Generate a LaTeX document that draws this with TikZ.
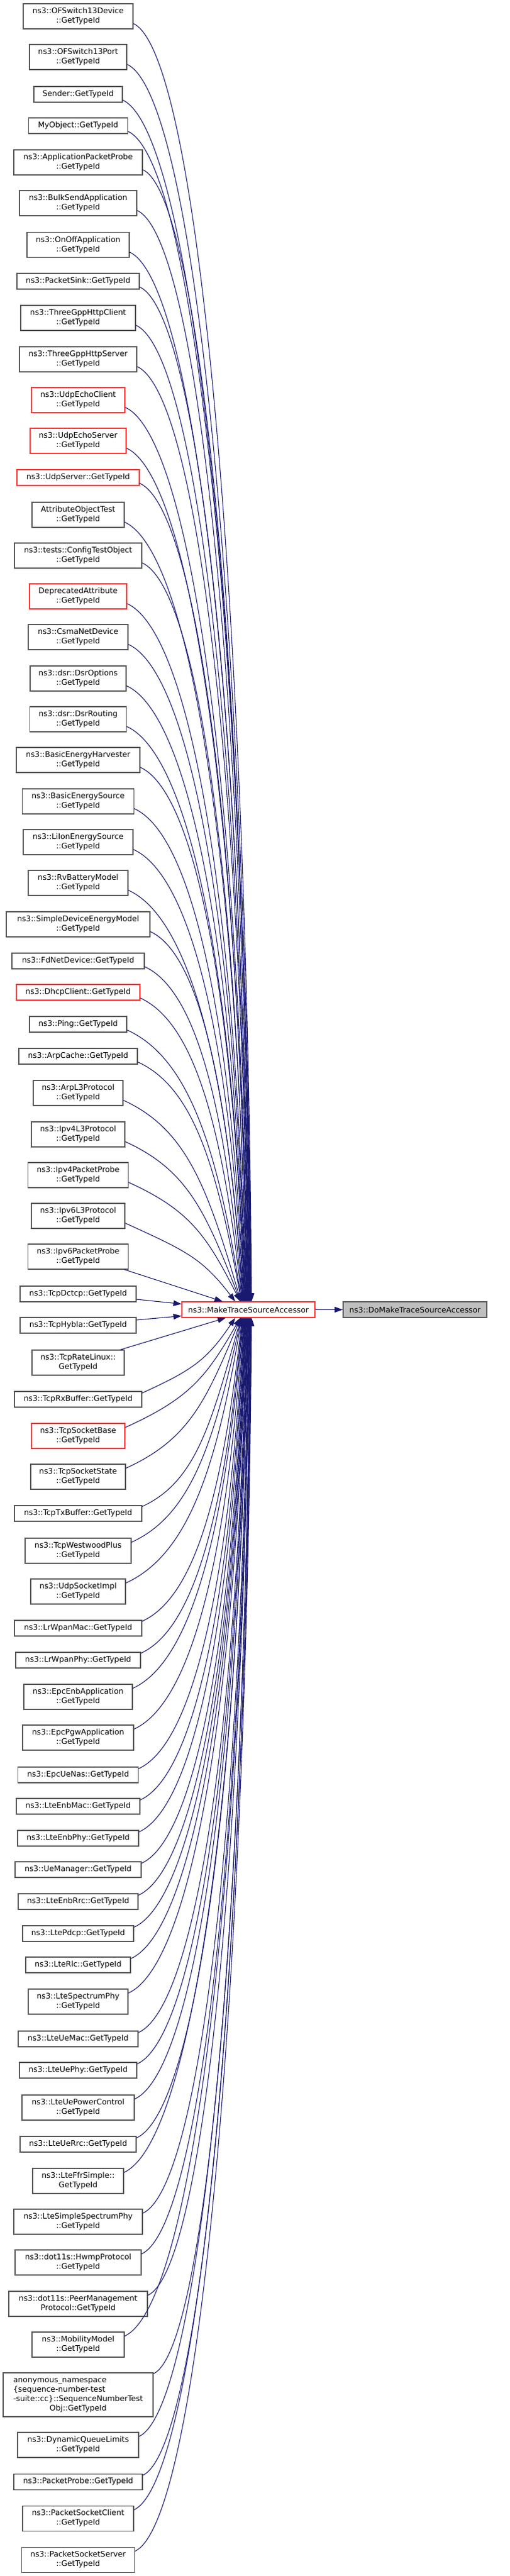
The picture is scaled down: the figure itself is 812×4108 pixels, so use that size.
\documentclass[tikz,border=0pt]{standalone}
\usepackage{fontspec}
\setmainfont{DejaVu Sans}
\usetikzlibrary{calc,arrows.meta}
\definecolor{edgecol}{HTML}{191970}
\definecolor{bordcol}{HTML}{555555}
\definecolor{redcol}{HTML}{FF3333}
\definecolor{rootfill}{HTML}{BFBFBF}
\tikzset{
  box/.style={draw=bordcol, fill=white, line width=1.1pt, inner xsep=2pt, inner ysep=0pt, align=center, font=\fontsize{12.3}{15}\selectfont},
  redbox/.style={box, draw=redcol},
  edge/.style={draw=edgecol, line width=1.1pt, -{Triangle[length=13pt,width=9pt]}},
}
\newcommand\mknode[6][box]{\node[#1,minimum width=#4pt,minimum height=#5pt] (n#2) at (124.5,#3) {#6};}
\newdimen\mydxa
\newdimen\mydya
\begin{document}
\begin{tikzpicture}[x=1pt,y=-1pt]
\useasboundingbox (0,0) rectangle (812,4108);
\mknode{1}{26}{175}{40}{ns3::OFSwitch13Device\\::GetTypeId}
\mknode{2}{91}{155}{40}{ns3::OFSwitch13Port\\::GetTypeId}
\mknode{3}{150.5}{141}{25}{Sender::GetTypeId}
\mknode{4}{200.5}{158}{25}{MyObject::GetTypeId}
\mknode{5}{259}{205}{40}{ns3::ApplicationPacketProbe\\::GetTypeId}
\mknode{6}{324}{187}{40}{ns3::BulkSendApplication\\::GetTypeId}
\mknode{7}{390.5}{163}{40}{ns3::OnOffApplication\\::GetTypeId}
\mknode{8}{448.5}{195}{25}{ns3::PacketSink::GetTypeId}
\mknode{9}{507}{183}{40}{ns3::ThreeGppHttpClient\\::GetTypeId}
\mknode{10}{573}{187}{40}{ns3::ThreeGppHttpServer\\::GetTypeId}
\mknode[redbox]{11}{638}{149}{40}{ns3::UdpEchoClient\\::GetTypeId}
\mknode[redbox]{12}{703}{153}{40}{ns3::UdpEchoServer\\::GetTypeId}
\mknode[redbox]{13}{761.5}{195}{25}{ns3::UdpServer::GetTypeId}
\mknode{14}{821}{147}{40}{AttributeObjectTest\\::GetTypeId}
\mknode{15}{886}{203}{40}{ns3::tests::ConfigTestObject\\::GetTypeId}
\mknode[redbox]{16}{951}{155}{40}{DeprecatedAttribute\\::GetTypeId}
\mknode{17}{1016}{159}{40}{ns3::CsmaNetDevice\\::GetTypeId}
\mknode{18}{1082}{153}{40}{ns3::dsr::DsrOptions\\::GetTypeId}
\mknode{19}{1147}{154}{40}{ns3::dsr::DsrRouting\\::GetTypeId}
\mknode{20}{1212}{197}{40}{ns3::BasicEnergyHarvester\\::GetTypeId}
\mknode{21}{1278}{178}{40}{ns3::BasicEnergySource\\::GetTypeId}
\mknode{22}{1343}{175}{40}{ns3::LiIonEnergySource\\::GetTypeId}
\mknode{23}{1408}{159}{40}{ns3::RvBatteryModel\\::GetTypeId}
\mknode{24}{1474}{229}{40}{ns3::SimpleDeviceEnergyModel\\::GetTypeId}
\mknode{25}{1532.5}{211}{25}{ns3::FdNetDevice::GetTypeId}
\mknode[redbox]{26}{1582.5}{197}{25}{ns3::DhcpClient::GetTypeId}
\mknode{27}{1633.5}{155}{25}{ns3::Ping::GetTypeId}
\mknode{28}{1684.5}{189}{25}{ns3::ArpCache::GetTypeId}
\mknode{29}{1743}{143}{40}{ns3::ArpL3Protocol\\::GetTypeId}
\mknode{30}{1809}{149}{40}{ns3::Ipv4L3Protocol\\::GetTypeId}
\mknode{31}{1874}{160}{40}{ns3::Ipv4PacketProbe\\::GetTypeId}
\mknode{32}{1939}{149}{40}{ns3::Ipv6L3Protocol\\::GetTypeId}
\mknode{33}{2004}{160}{40}{ns3::Ipv6PacketProbe\\::GetTypeId}
\mknode{34}{2063.5}{185}{25}{ns3::TcpDctcp::GetTypeId}
\mknode{35}{2113.5}{185}{25}{ns3::TcpHybla::GetTypeId}
\mknode{36}{2173}{147}{40}{ns3::TcpRateLinux::\\GetTypeId}
\mknode{37}{2231.5}{203}{25}{ns3::TcpRxBuffer::GetTypeId}
\mknode[redbox]{38}{2290}{149}{40}{ns3::TcpSocketBase\\::GetTypeId}
\mknode{39}{2355}{151}{40}{ns3::TcpSocketState\\::GetTypeId}
\mknode{40}{2413.5}{203}{25}{ns3::TcpTxBuffer::GetTypeId}
\mknode{41}{2473}{169}{40}{ns3::TcpWestwoodPlus\\::GetTypeId}
\mknode{42}{2538}{151}{40}{ns3::UdpSocketImpl\\::GetTypeId}
\mknode{43}{2596.5}{203}{25}{ns3::LrWpanMac::GetTypeId}
\mknode{44}{2647.5}{199}{25}{ns3::LrWpanPhy::GetTypeId}
\mknode{45}{2706}{173}{40}{ns3::EpcEnbApplication\\::GetTypeId}
\mknode{46}{2771}{177}{40}{ns3::EpcPgwApplication\\::GetTypeId}
\mknode{47}{2830.5}{192}{25}{ns3::EpcUeNas::GetTypeId}
\mknode{48}{2880.5}{197}{25}{ns3::LteEnbMac::GetTypeId}
\mknode{49}{2931.5}{193}{25}{ns3::LteEnbPhy::GetTypeId}
\mknode{50}{2981.5}{201}{25}{ns3::UeManager::GetTypeId}
\mknode{51}{3032.5}{191}{25}{ns3::LteEnbRrc::GetTypeId}
\mknode{52}{3083.5}{177}{25}{ns3::LtePdcp::GetTypeId}
\mknode{53}{3133.5}{167}{25}{ns3::LteRlc::GetTypeId}
\mknode{54}{3192}{159}{40}{ns3::LteSpectrumPhy\\::GetTypeId}
\mknode{55}{3251.5}{191}{25}{ns3::LteUeMac::GetTypeId}
\mknode{56}{3301.5}{187}{25}{ns3::LteUePhy::GetTypeId}
\mknode{57}{3361}{179}{40}{ns3::LteUePowerControl\\::GetTypeId}
\mknode{58}{3419.5}{185}{25}{ns3::LteUeRrc::GetTypeId}
\mknode{59}{3478}{145}{40}{ns3::LteFfrSimple::\\GetTypeId}
\mknode{60}{3543}{205}{40}{ns3::LteSimpleSpectrumPhy\\::GetTypeId}
\mknode{61}{3608}{201}{40}{ns3::dot11s::HwmpProtocol\\::GetTypeId}
\mknode{62}{3674}{221}{40}{ns3::dot11s::PeerManagement\\Protocol::GetTypeId}
\mknode{63}{3739}{147}{40}{ns3::MobilityModel\\::GetTypeId}
\mknode{64}{3819}{239}{70}{\begin{tabular}{@{}l@{}}anonymous\_namespace\\\{sequence-number-test\\-suite::cc\}::SequenceNumberTest\\\multicolumn{1}{@{}c@{}}{Obj::GetTypeId}\end{tabular}}
\mknode{65}{3899}{193}{40}{ns3::DynamicQueueLimits\\::GetTypeId}
\mknode{66}{3957.5}{205}{25}{ns3::PacketProbe::GetTypeId}
\mknode{67}{4016}{177}{40}{ns3::PacketSocketClient\\::GetTypeId}
\mknode{68}{4082}{180}{40}{ns3::PacketSocketServer\\::GetTypeId}
\node[redbox,minimum width=212pt,minimum height=25pt] (c) at (396,2088.5) {ns3::MakeTraceSourceAccessor};
\node[box,fill=rootfill,minimum width=229pt,minimum height=25pt] (d) at (661.5,2088.5) {ns3::DoMakeTraceSourceAccessor};
% top fan
\foreach \i/\soff in {1/9,2/9,3/4,4/4,5/9,6/9,7/9,8/4,9/9,10/9,11/9,12/9,13/4,14/9,15/9,16/9,17/9,18/9,19/9,20/9,21/9,22/9,23/9,24/9,25/4,26/4,27/4,28/4,29/9,30/9,31/9,32/9} {
  \pgfextractx{\mydxa}{\pgfpointanchor{n\i}{south east}}
  \pgfextracty{\mydya}{\pgfpointanchor{n\i}{south east}}
  \pgfmathsetmacro\myxs{\mydxa}
  \pgfmathsetmacro\myys{-\mydya-\soff}
  \pgfmathtruncatemacro\mykk{34-\i}
  \pgfmathsetmacro\myxe{(\mykk==2)*375+(\mykk>2)*(383+(\mykk-3)*0.6)}
  \pgfmathsetmacro\myhh{\myxe-\myxs}
  \pgfmathsetmacro\mydd{2076-\myys}
  \pgfmathsetmacro\myax{0.55*\myhh}
  \pgfmathsetmacro\myay{0.25*\myhh}
  \pgfmathsetmacro\mybx{0.3*\myhh*min(1,300/\mydd)}
  \pgfmathsetmacro\myby{0.55*\mydd}
  \pgfmathsetmacro\myex{\myxe-396}
  \draw[edge] ($(n\i.south east)+(0,-\soff)$) .. controls +(\myax,\myay) and ($(c.north)+(\myex-\mybx,-\myby)$) .. ($(c.north)+(\myex,0)$);
}
% bottom fan
\foreach \i/\soff in {37/3,38/7,39/7,40/2,41/7,42/7,43/2,44/2,45/7,46/7,47/3,48/3,49/3,50/3,51/3,52/3,53/3,54/7,55/3,56/3,57/7,58/3,59/7,60/7,61/7,62/7,63/7,64/2,65/7,66/3,67/7,68/7} {
  \pgfextractx{\mydxa}{\pgfpointanchor{n\i}{north east}}
  \pgfextracty{\mydya}{\pgfpointanchor{n\i}{north east}}
  \pgfmathsetmacro\myxs{\mydxa}
  \pgfmathsetmacro\myys{-\mydya+\soff}
  \pgfmathtruncatemacro\mykk{\i-35}
  \pgfmathsetmacro\myxe{(\mykk==2)*375+(\mykk>2)*(383+(\mykk-3)*0.6)}
  \pgfmathsetmacro\myhh{\myxe-\myxs}
  \pgfmathsetmacro\mydd{\myys-2101}
  \pgfmathsetmacro\myax{0.55*\myhh}
  \pgfmathsetmacro\myay{0.25*\myhh}
  \pgfmathsetmacro\mybx{0.3*\myhh*min(1,300/\mydd)}
  \pgfmathsetmacro\myby{0.55*\mydd}
  \pgfmathsetmacro\myex{\myxe-396}
  \draw[edge] ($(n\i.north east)+(0,\soff)$) .. controls +(\myax,-\myay) and ($(c.south)+(\myex-\mybx,\myby)$) .. ($(c.south)+(\myex,0)$);
}
\draw[edge] ($(n33.south east)+(-7,0)$) -- ($(c.north)+(-41,0)$);
\draw[edge] ($(n36.north east)+(-7,0)$) -- ($(c.south)+(-36,0)$);
\draw[edge] ($(n34.east)+(0,8.5)$) -- ($(c.west)+(0,-9)$);
\draw[edge] ($(n35.east)+(0,-8.5)$) -- ($(c.west)+(0,10)$);
\draw[edge] (c) -- (d);
\end{tikzpicture}
\end{document}
